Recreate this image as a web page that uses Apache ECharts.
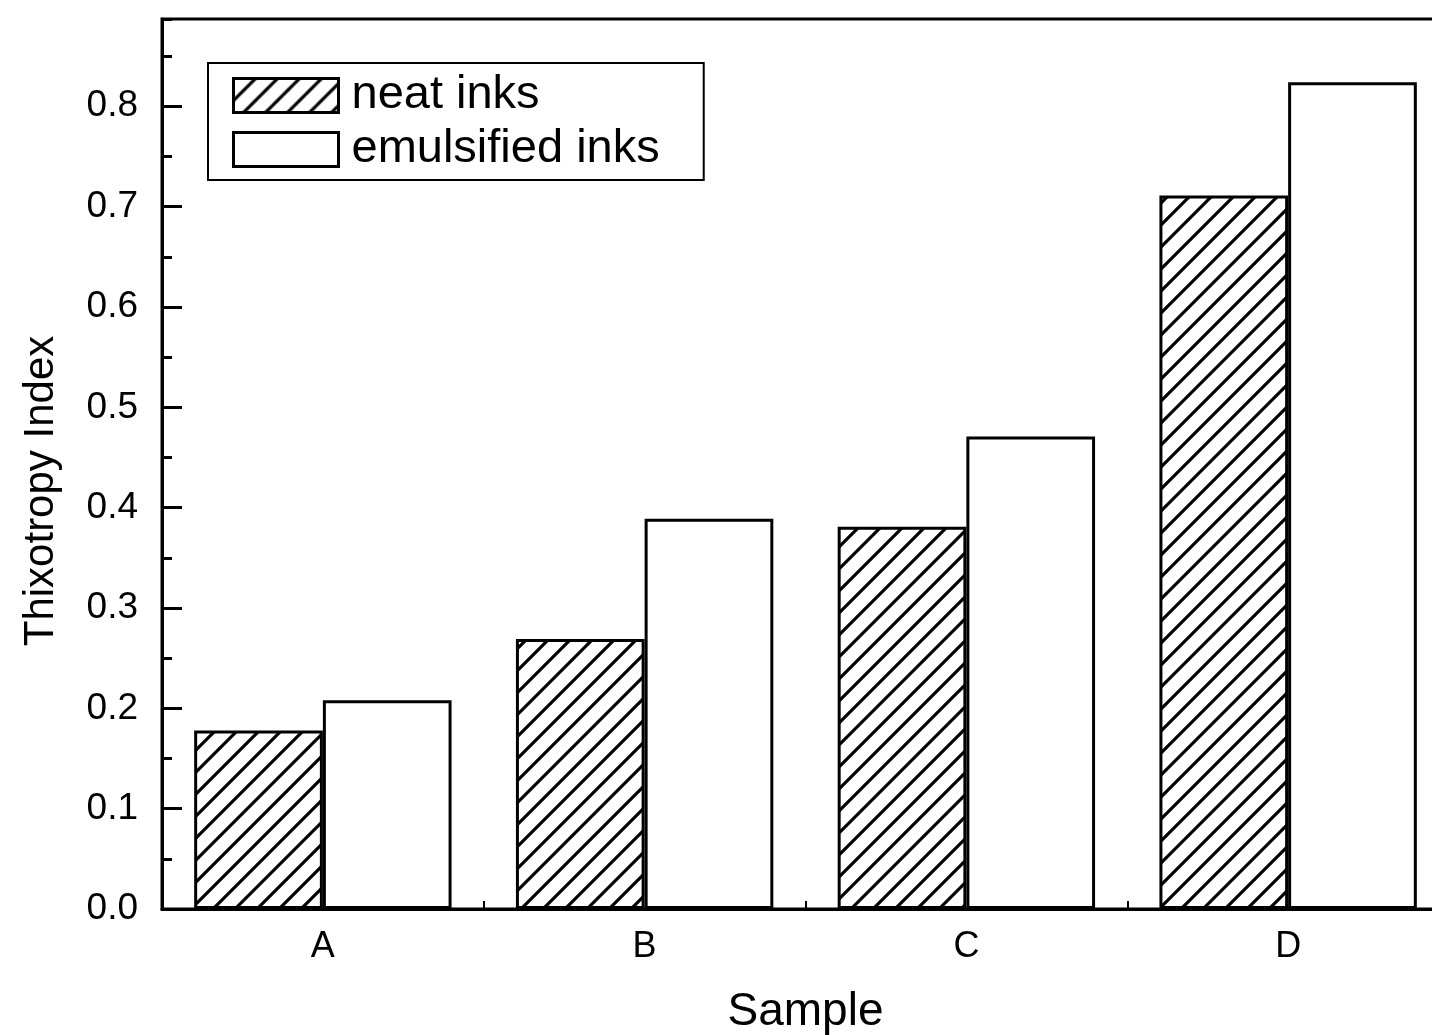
<!DOCTYPE html>
<html><head><meta charset="utf-8">
<script src="https://cdn.jsdelivr.net/npm/echarts@6/dist/echarts.min.js"></script>
<style>html,body{margin:0;padding:0;overflow:hidden;background:#fff}#c{width:1452px;height:1035px}</style>
</head><body><div id="c"></div>
<script>
const categories = ['A', 'B', 'C', 'D'];
const seriesNames = ['neat inks', 'emulsified inks'];
const neatInks = [0.178, 0.269, 0.381, 0.711];
const emulsifiedInks = [0.208, 0.389, 0.471, 0.824];
const yMin = 0, yMax = 0.887, yMajor = 0.1, yMinor = 0.05;
const xTitle = 'Sample';
const yTitle = 'Thixotropy Index';

const FONT = "'Liberation Sans', Arial, Helvetica, sans-serif";

function hatch(s, w) {
  const cv = document.createElement('canvas');
  cv.width = s; cv.height = s;
  const g = cv.getContext('2d');
  g.fillStyle = '#fff'; g.fillRect(0, 0, s, s);
  g.strokeStyle = '#000'; g.lineWidth = w;
  g.beginPath();
  g.moveTo(-2, s + 2); g.lineTo(s + 2, -2);
  g.moveTo(-s / 2 - 2, s / 2 + 2); g.lineTo(s / 2 + 2, -s / 2 - 2);
  g.moveTo(s / 2 - 2, s * 1.5 + 2); g.lineTo(s * 1.5 + 2, s / 2 - 2);
  g.stroke();
  return cv;
}

const chart = echarts.init(document.getElementById('c'), null, { renderer: 'canvas' });
const axisLine = { show: true, lineStyle: { color: '#000', width: 3 } };

chart.setOption({
  animation: false,
  backgroundColor: '#fff',
  textStyle: { fontFamily: FONT, color: '#000' },
  grid: { left: 162, right: 3, top: 19, bottom: 126, outerBoundsMode: 'none', containLabel: false,
    show: true, borderColor: '#000', borderWidth: 3, backgroundColor: 'transparent' },
  legend: {
    orient: 'vertical', left: 208, top: 63,
    data: seriesNames,
    icon: 'rect', itemWidth: 105, itemHeight: 34, itemGap: 7,
    padding: [9, 44, 7, 24],
    borderColor: '#000', borderWidth: 2,
    itemStyle: { borderColor: '#000', borderWidth: 3 },
    textStyle: { fontSize: 47, fontFamily: FONT, color: '#000', lineHeight: 46, padding: [0, 0, 0, 8] }
  },
  xAxis: {
    type: 'category', data: categories,
    name: xTitle, nameLocation: 'middle', nameGap: 80,
    nameTextStyle: { fontSize: 46, fontFamily: FONT, color: '#000' },
    axisLine: axisLine,
    axisTick: { show: true, inside: true, length: 8, lineStyle: { color: '#000', width: 2 } },
    axisLabel: { fontSize: 36, fontFamily: FONT, color: '#000', margin: 20 },
    splitLine: { show: false }
  },
  yAxis: [{
    type: 'value', min: yMin, max: yMax, interval: yMajor,
    name: yTitle, nameLocation: 'middle', nameGap: 100,
    nameTextStyle: { fontSize: 42, fontFamily: FONT, color: '#000', padding: [0, 54, 0, 0] },
    axisLine: axisLine,
    axisTick: { show: true, inside: true, length: 20, lineStyle: { color: '#000', width: 3 } },
    axisLabel: { fontSize: 37, fontFamily: FONT, color: '#000', margin: 24, showMaxLabel: false,
      formatter: v => v.toFixed(1) },
    splitLine: { show: false }
  }, {
    type: 'value', min: yMin, max: yMax, interval: yMinor, position: 'left',
    axisLine: { show: false },
    axisTick: { show: true, inside: true, length: 10, lineStyle: { color: '#000', width: 3 } },
    axisLabel: { show: false },
    splitLine: { show: false }
  }],
  series: [{
    name: seriesNames[0], type: 'bar', data: neatInks,
    barGap: '0%', barCategoryGap: '20%',
    itemStyle: { color: { image: hatch(22, 3.2), repeat: 'repeat' }, borderColor: '#000', borderWidth: 3 }
  }, {
    name: seriesNames[1], type: 'bar', data: emulsifiedInks,
    barGap: '0%', barCategoryGap: '20%',
    itemStyle: { color: '#fff', borderColor: '#000', borderWidth: 3 }
  }]
});
</script></body></html>
